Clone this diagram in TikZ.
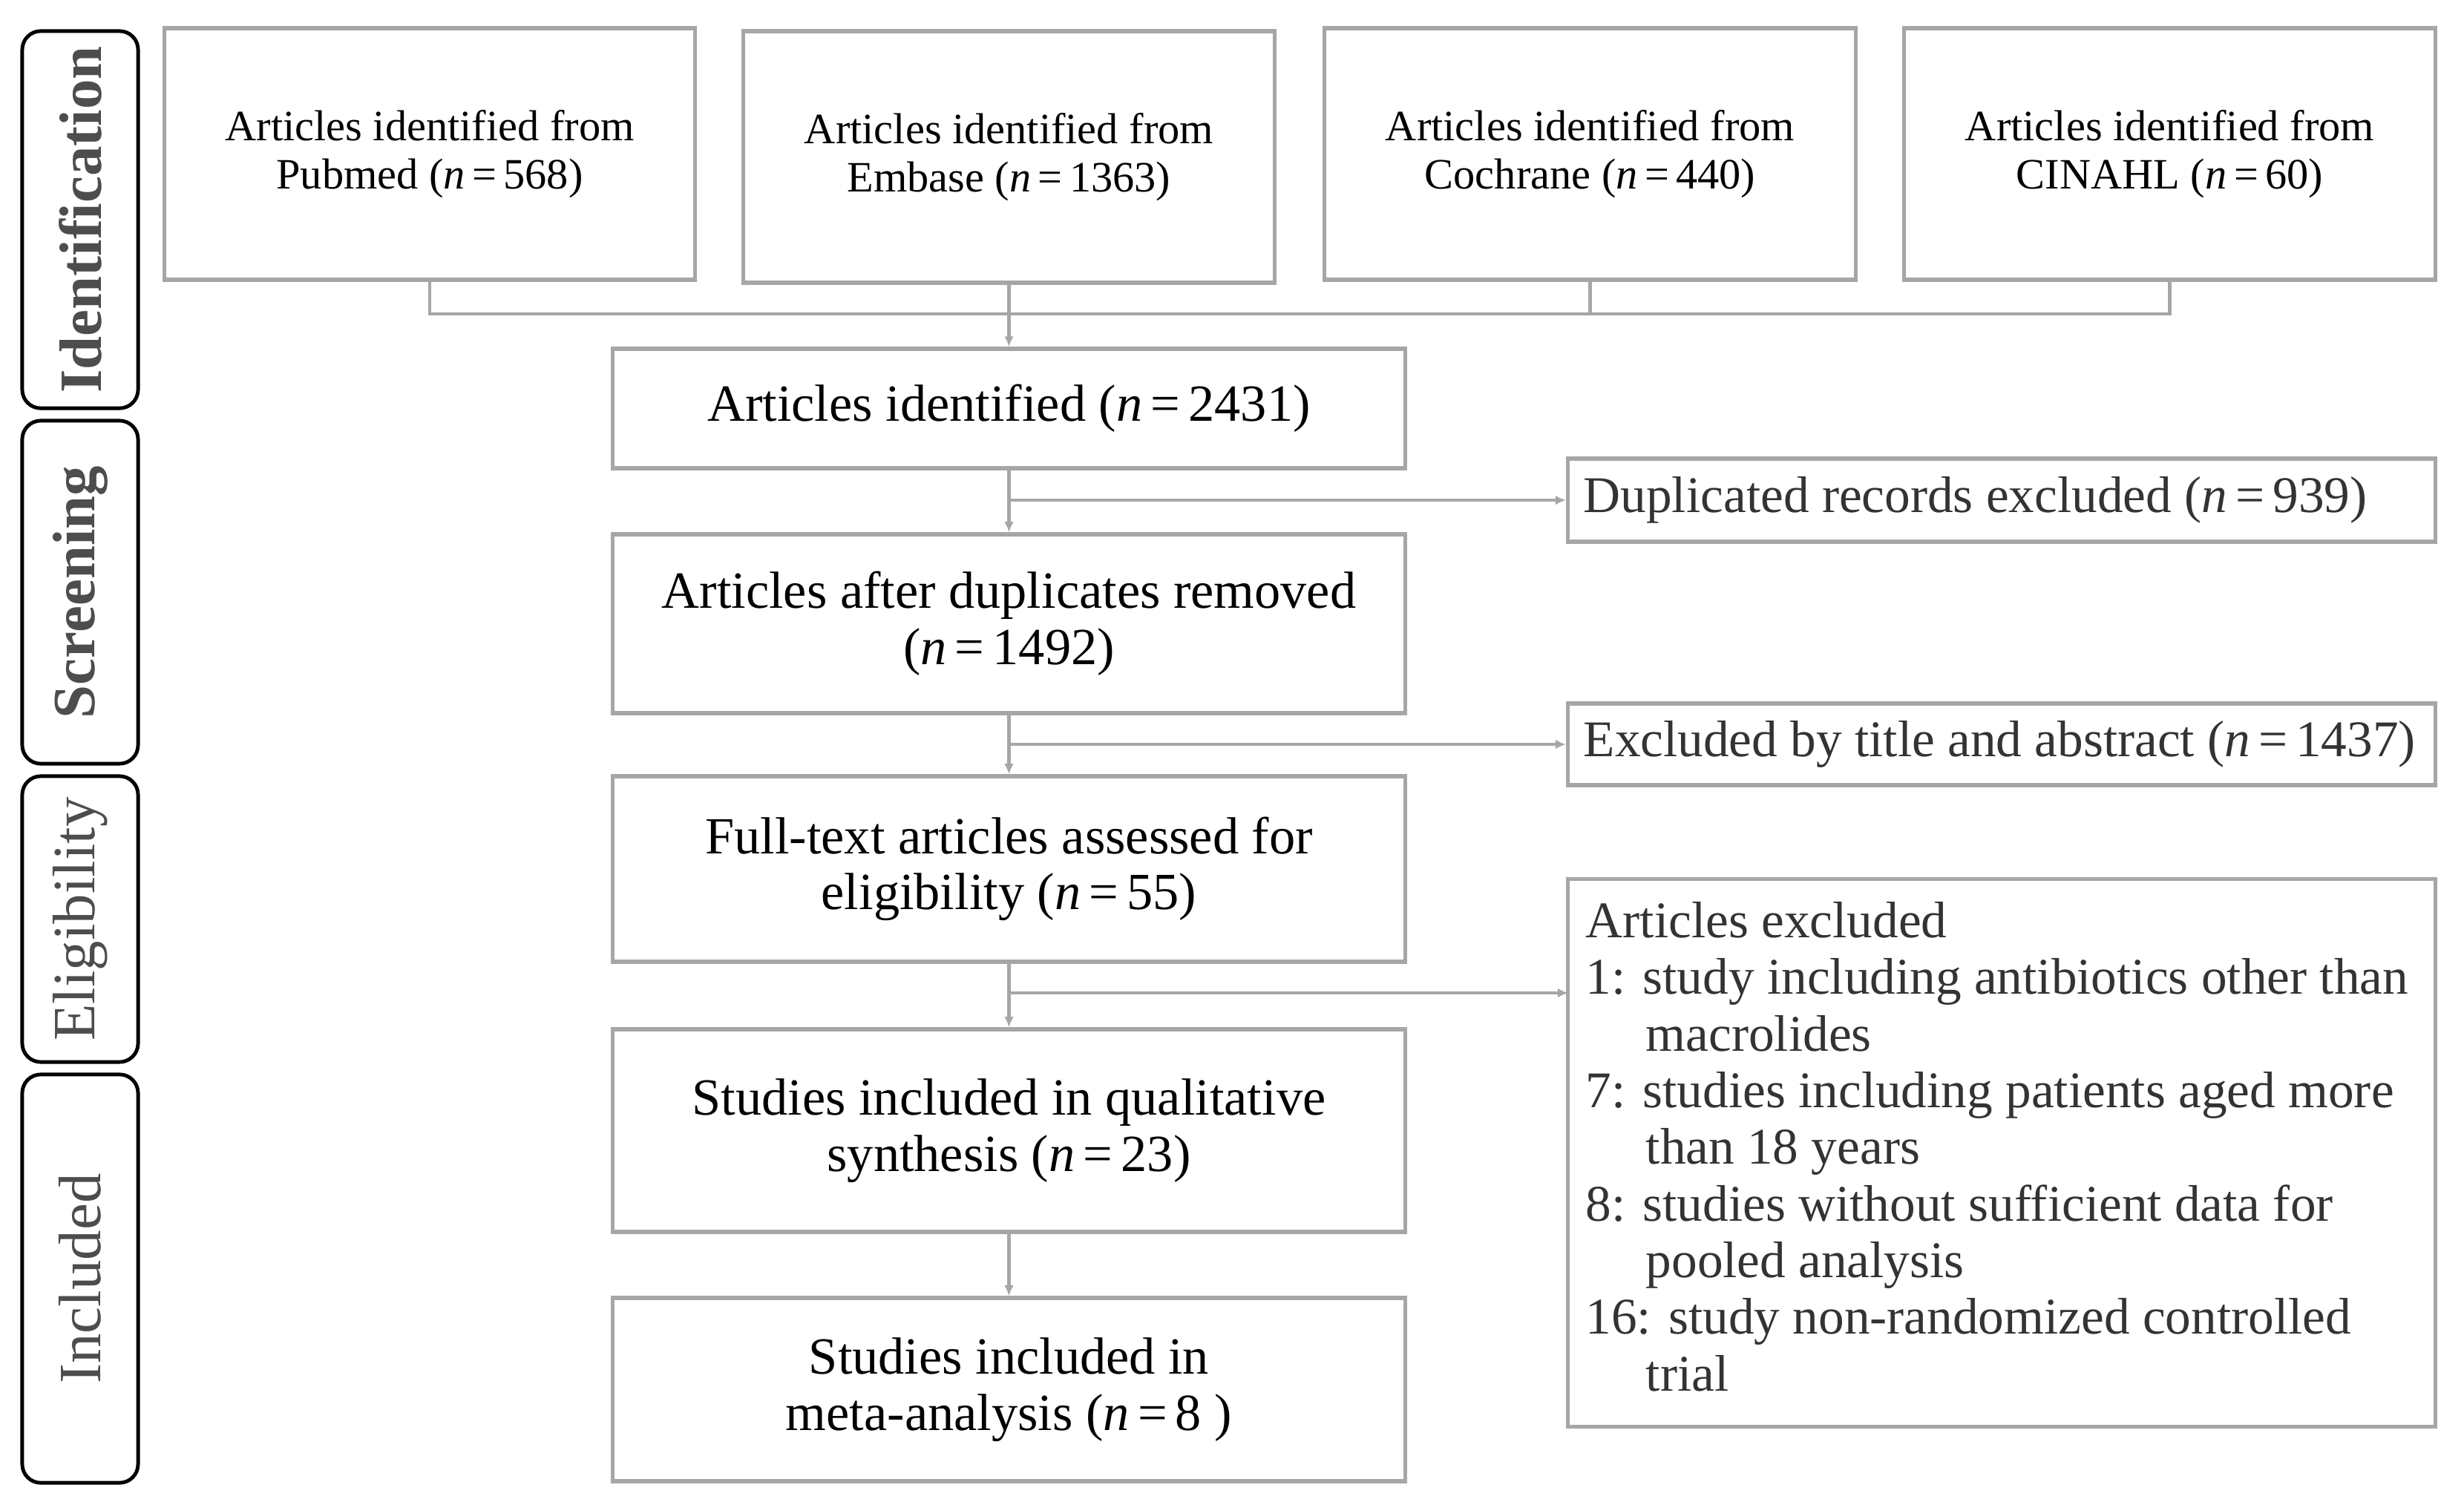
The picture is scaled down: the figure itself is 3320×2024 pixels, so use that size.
\documentclass[tikz,border=0pt]{standalone}
\usepackage{fontspec}
\setmainfont{Liberation Serif}
\usetikzlibrary{arrows.meta}
\definecolor{boxgray}{HTML}{A6A6A6}
\definecolor{labgray}{HTML}{4D4D4D}
\definecolor{txtgray}{HTML}{333333}
\newcommand{\nis}[1]{(\textit{n}\hspace{0.16em}=\hspace{0.16em}#1)}
\begin{document}
\begin{tikzpicture}[x=0.01cm,y=-0.01cm,
  box/.style={draw=boxgray,line width=1.5pt,align=center,inner sep=0pt,
    font=\fontsize{20}{21.5}\selectfont},
  mainbox/.style={box,minimum width=10.67cm},
  topbox/.style={box,minimum width=7.15cm,minimum height=3.39cm,
    font=\fontsize{16.6}{18.5}\selectfont},
  rightbox/.style={box,minimum width=11.68cm,inner xsep=0.21cm,text=txtgray,
    font=\fontsize{19.7}{21.7}\selectfont},
  side/.style={draw=black,line width=1.4pt,rounded corners=0.25cm,rotate=90,
    minimum height=1.56cm,text=labgray,inner sep=0pt,
    font=\fontsize{23}{25}\selectfont},
  conn/.style={draw=boxgray,line width=1.2pt},
  arr/.style={conn,-{Latex[length=4pt,width=3.6pt]}}
]
\useasboundingbox (0,0) rectangle (3320,2024);

% stage labels
\node[side,minimum width=5.08cm,font=\fontsize{23}{25}\selectfont\bfseries] (sid) at (108,296) {Identification};
\node[side,minimum width=4.62cm,font=\fontsize{23}{25}\selectfont\bfseries] (sscr) at (108,798) {Screening};
\node[side,minimum width=3.85cm] (selg) at (108,1238.5) {Eligibility};
\node[side,minimum width=5.50cm] (sinc) at (108,1723) {Included};

% sources
\node[topbox] (pub) at (579,207.5) {Articles identified from\\Pubmed \nis{568}};
\node[topbox] (emb) at (1359.5,211.5) {Articles identified from\\Embase \nis{1363}};
\node[topbox] (coc) at (2142.5,207.5) {Articles identified from\\Cochrane \nis{440}};
\node[topbox] (cin) at (2923.5,207.5) {Articles identified from\\CINAHL \nis{60}};

% main column
\node[mainbox,minimum height=1.61cm] (ai) at (1359.5,550.5) {Articles identified \nis{2431}};
\node[mainbox,minimum height=2.41cm] (adr) at (1359.5,840.5) {Articles after duplicates removed\\\nis{1492}};
\node[mainbox,minimum height=2.50cm] (ft) at (1359.5,1171) {Full-text articles assessed for\\eligibility \nis{55}};
\node[mainbox,minimum height=2.73cm] (qs) at (1359.5,1523.5) {Studies included in qualitative\\synthesis \nis{23}};
\node[mainbox,minimum height=2.47cm] (ma) at (1359.5,1872.5) {Studies included in\\meta-analysis \nis{8 }};

% exclusion boxes
\node[rightbox,minimum height=1.12cm] (dup) at (2697,674)
  {\makebox[11.26cm][l]{Duplicated records excluded \nis{939}}};
\node[rightbox,minimum height=1.10cm] (tit) at (2697,1003)
  {\makebox[11.26cm][l]{Excluded by title and abstract \nis{1437}}};
\node[rightbox,minimum height=7.37cm,inner xsep=0.24cm] (exc) at (2697,1553.5)
  {\makebox[11.20cm][l]{\begin{tabular}{@{}l@{}}
   Articles excluded\\
   1: study including antibiotics other than\\
   \hspace*{0.81cm}macrolides\\
   7: studies including patients aged more\\
   \hspace*{0.81cm}than 18 years\\
   8: studies without sufficient data for\\
   \hspace*{0.81cm}pooled analysis\\
   16: study non-randomized controlled\\
   \hspace*{0.81cm}trial
  \end{tabular}}};

% connectors
\coordinate (jn) at (1359.5,423);
\draw[conn] (pub.south) |- (jn);
\draw[conn] (cin.south) |- (jn);
\draw[conn] (coc.south) -- (coc.south |- jn);
\draw[arr] (emb.south) -- (ai.north);
\draw[arr] (ai.south) -- (adr.north);
\draw[arr] (ai.south |- dup.west) -- (dup.west);
\draw[arr] (adr.south) -- (ft.north);
\draw[arr] (adr.south |- tit.west) -- (tit.west);
\coordinate (ea) at (2113,1338);
\draw[arr] (ft.south) -- (qs.north);
\draw[arr] (ft.south |- ea) -- (ea);
\draw[arr] (qs.south) -- (ma.north);
\end{tikzpicture}
\end{document}
